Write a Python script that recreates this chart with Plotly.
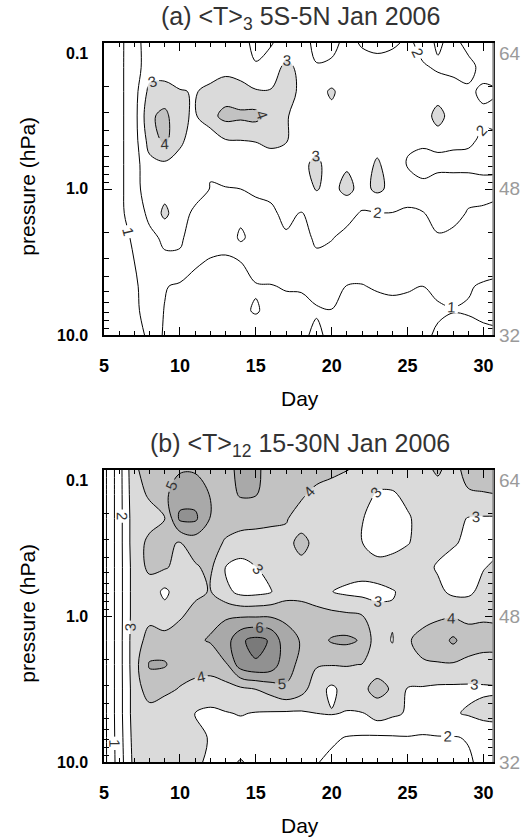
import numpy as np
import plotly.graph_objects as go

# ---------------------------------------------------------------- data
DAYS = list(range(5, 32))
PRESSURE = [10.0, 6.81, 4.64, 3.16, 2.15, 1.47, 1.0, 0.681, 0.464, 0.316, 0.215, 0.147, 0.1]

# (a) <T>_3, 5S-5N: one column per day, values listed from 10 hPa up to 0.1 hPa
T3_EQ_BY_DAY = [
    [0.30, 0.30, 0.35, 0.40, 0.40, 0.45, 0.50, 0.50, 0.50, 0.50, 0.50, 0.50, 0.50],  # 5
    [0.35, 0.40, 0.45, 0.55, 0.65, 0.75, 0.75, 0.75, 0.75, 0.75, 0.75, 0.75, 0.70],  # 6
    [0.50, 0.80, 0.90, 1.00, 1.15, 1.50, 1.60, 1.60, 1.60, 1.60, 1.60, 1.60, 1.70],  # 7
    [1.25, 1.40, 1.30, 1.60, 1.80, 2.20, 2.60, 2.70, 3.40, 3.80, 3.30, 2.50, 2.40],  # 8
    [0.95, 0.97, 1.05, 1.85, 2.15, 3.25, 2.60, 2.80, 4.25, 4.30, 3.30, 2.60, 2.40],  # 9
    [0.70, 0.80, 0.86, 1.75, 2.20, 2.30, 2.40, 2.60, 3.20, 3.15, 3.05, 2.50, 2.30],  # 10
    [0.60, 0.80, 0.76, 1.10, 1.40, 1.85, 2.30, 2.50, 2.50, 2.90, 2.95, 2.40, 2.40],  # 11
    [0.60, 0.50, 0.58, 0.93, 1.36, 1.82, 1.98, 2.05, 2.30, 3.70, 3.20, 2.60, 2.40],  # 12
    [0.65, 0.55, 0.55, 0.90, 1.25, 1.60, 1.97, 2.30, 2.95, 4.30, 3.50, 2.70, 2.30],  # 13
    [0.70, 0.90, 0.65, 1.00, 2.20, 1.70, 2.00, 2.30, 3.00, 4.20, 3.40, 2.50, 2.20],  # 14
    [0.70, 1.05, 0.95, 1.30, 1.55, 1.80, 2.10, 2.40, 3.05, 4.30, 3.10, 2.05, 1.85],  # 15
    [0.65, 0.85, 0.97, 1.35, 1.60, 1.85, 2.20, 2.60, 3.20, 3.70, 3.05, 2.60, 1.90],  # 16
    [0.70, 0.80, 1.05, 1.50, 1.90, 2.20, 2.40, 2.70, 3.05, 3.10, 3.20, 3.20, 2.60],  # 17
    [0.85, 0.80, 1.07, 1.40, 1.70, 1.95, 2.60, 2.80, 2.50, 2.50, 2.90, 2.80, 2.30],  # 18
    [1.15, 0.93, 1.25, 1.80, 2.15, 2.30, 3.05, 3.20, 2.70, 2.50, 2.60, 2.05, 1.80],  # 19
    [0.80, 0.98, 1.30, 1.65, 2.05, 2.40, 2.75, 2.60, 2.60, 2.70, 3.15, 2.10, 1.85],  # 20
    [0.70, 0.70, 0.98, 1.35, 1.75, 2.30, 3.25, 2.90, 2.50, 2.40, 2.50, 2.30, 2.15],  # 21
    [0.70, 0.70, 0.97, 1.30, 1.60, 1.90, 2.70, 2.50, 2.40, 2.35, 2.40, 2.20, 1.95],  # 22
    [0.60, 0.75, 1.07, 1.40, 1.70, 1.95, 3.20, 3.15, 2.60, 2.40, 2.30, 2.20, 1.85],  # 23
    [0.70, 0.80, 1.12, 1.45, 1.75, 1.97, 2.75, 2.50, 2.30, 2.35, 2.20, 2.30, 1.90],  # 24
    [0.75, 0.85, 1.05, 1.40, 1.70, 1.90, 2.30, 1.95, 2.10, 2.20, 2.20, 2.20, 2.10],  # 25
    [0.85, 0.75, 1.00, 1.35, 1.70, 1.98, 2.15, 1.80, 2.10, 2.15, 2.10, 2.05, 1.85],  # 26
    [1.10, 0.90, 1.16, 1.50, 1.95, 2.20, 2.30, 1.85, 2.15, 3.60, 2.20, 1.95, 2.05],  # 27
    [1.20, 0.98, 1.12, 1.45, 1.85, 2.20, 2.30, 1.85, 2.10, 2.25, 2.15, 1.90, 1.90],  # 28
    [1.20, 0.95, 1.05, 1.40, 1.70, 1.95, 2.20, 1.90, 2.05, 2.10, 2.05, 1.90, 2.10],  # 29
    [1.15, 0.85, 0.93, 1.30, 1.60, 1.90, 2.20, 1.85, 1.95, 2.05, 1.95, 2.10, 2.30],  # 30
    [1.10, 0.80, 0.86, 1.25, 1.55, 1.80, 2.15, 1.90, 1.95, 2.10, 2.00, 2.20, 2.30],  # 31
]

# (b) <T>_12, 15-30N: one row per level, from 0.1 hPa (top) down to 10 hPa, days 5..31
T12_SUB_ROWS = [
    [-0.3, 1.6, 3.8, 4.5, 4.7, 4.9, 4.9, 4.6, 4.6, 5.3, 5.2, 4.6, 4.5, 4.4, 4.3, 4.2, 4.05, 3.6, 3.5, 3.5, 3.6, 3.8, 4.1, 3.7, 4.3, 4.4, 4.3],   # 0.1
    [-0.3, 1.6, 3.7, 4.1, 4.8, 5.6, 5.6, 4.95, 4.6, 5.1, 5.05, 4.6, 4.4, 4.1, 3.8, 3.6, 3.5, 3.4, 2.9, 2.9, 3.2, 3.5, 3.7, 3.6, 3.9, 3.95, 4.0],  # 0.147
    [-0.3, 1.6, 3.6, 3.7, 3.98, 6.2, 6.2, 4.95, 4.4, 4.3, 4.3, 4.2, 4.05, 3.7, 3.5, 3.4, 3.3, 3.05, 2.6, 2.7, 2.9, 3.3, 3.4, 3.3, 2.95, 2.9, 2.9],  # 0.215
    [-0.3, 1.6, 3.6, 4.2, 4.15, 3.95, 4.4, 4.4, 3.9, 3.7, 3.6, 3.6, 3.8, 4.2, 3.8, 3.5, 3.3, 3.02, 2.5, 2.6, 2.95, 3.3, 3.3, 3.1, 2.8, 2.7, 2.8],  # 0.316
    [-0.3, 1.6, 3.5, 4.2, 4.1, 3.7, 3.9, 4.2, 2.97, 2.6, 2.98, 3.4, 3.6, 3.8, 3.6, 3.5, 3.5, 3.4, 3.4, 3.5, 3.5, 3.3, 2.9, 2.6, 2.7, 2.95, 3.2],  # 0.464
    [-0.3, 1.6, 3.5, 3.5, 2.8, 3.5, 3.8, 4.05, 3.3, 2.7, 2.7, 2.95, 3.5, 3.6, 3.4, 3.02, 2.8, 2.7, 2.8, 2.95, 3.2, 3.3, 3.2, 2.8, 2.8, 3.3, 3.5],  # 0.681
    [-0.3, 1.6, 3.5, 3.8, 3.4, 3.9, 4.3, 4.85, 4.9, 4.9, 4.9, 4.9, 4.85, 4.6, 4.4, 4.3, 4.2, 4.05, 3.3, 3.1, 3.5, 3.7, 3.9, 3.9, 3.8, 3.9, 3.85],  # 1.0
    [-0.3, 1.6, 3.6, 4.3, 4.4, 4.5, 4.9, 5.05, 5.5, 6.85, 7.3, 6.9, 5.3, 4.95, 4.6, 5.1, 5.2, 4.9, 3.4, 2.95, 3.9, 4.3, 4.4, 5.2, 4.4, 4.3, 4.3],  # 1.47
    [-0.3, 1.6, 3.6, 5.1, 5.1, 4.4, 4.5, 4.6, 4.9, 6.5, 6.9, 6.6, 5.3, 4.8, 4.1, 4.05, 4.05, 3.98, 3.6, 3.4, 3.6, 3.9, 3.95, 3.9, 3.8, 3.7, 3.7],  # 2.15
    [-0.3, 1.6, 3.5, 4.5, 4.2, 3.95, 3.6, 3.3, 3.6, 3.8, 4.02, 4.4, 4.9, 4.4, 3.4, 2.8, 3.4, 3.8, 4.3, 3.9, 2.95, 2.9, 2.8, 2.8, 2.8, 2.85, 2.9],  # 3.16
    [-0.3, 1.6, 3.5, 3.6, 3.5, 3.4, 2.97, 2.9, 2.95, 3.05, 2.95, 2.9, 2.85, 2.85, 3.0, 3.05, 2.95, 2.95, 3.5, 3.2, 2.9, 2.7, 2.7, 2.9, 3.1, 3.3, 3.3],  # 4.64
    [-0.3, 1.55, 3.4, 3.5, 3.4, 3.3, 3.2, 2.95, 2.7, 2.6, 2.7, 2.6, 2.5, 2.4, 2.3, 2.15, 1.95, 1.9, 1.85, 1.9, 1.95, 1.9, 1.95, 1.95, 2.05, 2.3, 2.5],  # 6.81
    [-0.3, 1.5, 3.3, 3.4, 3.3, 3.2, 3.1, 2.9, 2.8, 3.05, 2.8, 2.5, 2.3, 2.2, 2.05, 1.8, 1.7, 1.6, 1.6, 1.6, 1.7, 1.7, 1.8, 1.8, 1.9, 2.2, 2.4],  # 10
]

DAY_TICKS = [5, 10, 15, 20, 25, 30]
P_TICKS = [0.1, 1.0, 10.0]
P_TICK_TEXT = ["0.1", "1.0", "10.0"]
ALT_TICK_TEXT = ["64", "48", "32"]
TITLES = ["(a) &lt;T&gt;<sub>3</sub> 5S-5N Jan 2006", "(b) &lt;T&gt;<sub>12</sub> 15-30N Jan 2006"]
LEVEL_START = [1, 0]     # lowest contour level drawn in each panel
LEVEL_END = 7

# ---------------------------------------------------------------- layout helpers
W, H = 524, 839
PLOT_L, PLOT_R = 100, 493
PANELS = [(43, 335), (470, 762)]          # top / bottom pixel rows of each plot box
FONT = "Liberation Sans"
BAND_GREY = {3: "#dadada", 4: "#c2c2c2", 5: "#a9a9a9", 6: "#919191", 7: "#7a7a7a"}


def fx(px):
    return px / W


def fy(py):
    return 1 - py / H


def p_to_px(p, top, bot):
    return top + (bot - top) * (np.log10(p) + 1) / 2


def band_scale(start, end):
    """Stepped grey scale: white below 3, darker grey for each unit above."""
    n = end - start + 1
    out = []
    for j in range(n + 1):
        lower = start + j - 1          # band [lower, lower + 1]
        out.append([j / n, BAND_GREY.get(min(lower, 7), "#ffffff") if lower >= 3 else "#ffffff"])
    return out


za = np.array(T3_EQ_BY_DAY).T               # rows: 10 hPa .. 0.1 hPa
zb = np.array(T12_SUB_ROWS)[::-1]           # rows: 10 hPa .. 0.1 hPa

fig = go.Figure()
for i, z in enumerate([za, zb]):
    fig.add_trace(go.Contour(
        x=DAYS, y=PRESSURE, z=z,
        xaxis="x" if i == 0 else "x2", yaxis="y" if i == 0 else "y2",
        autocontour=False,
        contours=dict(start=LEVEL_START[i], end=LEVEL_END, size=1, coloring="fill", showlabels=True,
                      labelfont=dict(family=FONT, size=15, color="#333333")),
        colorscale=band_scale(LEVEL_START[i], LEVEL_END), showscale=False,
        line=dict(color="black", width=1),
        hoverinfo="skip",
    ))

layout = dict(
    width=W, height=H, autosize=False,
    margin=dict(l=0, r=0, t=0, b=0),
    paper_bgcolor="white", plot_bgcolor="white",
    showlegend=False,
    font=dict(family=FONT, color="black"),
)

annotations = []
shapes = []
for i, (top, bot) in enumerate(PANELS):
    sfx = "" if i == 0 else "2"
    layout["xaxis" + sfx] = dict(
        domain=[fx(PLOT_L), fx(PLOT_R)], range=[5, 30.65], anchor="y" + sfx,
        tickmode="array", tickvals=DAY_TICKS, ticks="inside", ticklen=8, tickwidth=1.2,
        tickcolor="black", showline=True, linecolor="black", linewidth=1.6, mirror="ticks",
        showgrid=False, zeroline=False,
        tickfont=dict(family=FONT, size=18, color="black", weight="bold"),
        ticklabelstandoff=14,
        minor=dict(ticks="inside", ticklen=4, tickwidth=1, tickcolor="black",
                   tickmode="array", tickvals=[d for d in range(6, 31) if d % 5], showgrid=False),
    )
    layout["yaxis" + sfx] = dict(
        domain=[fy(bot), fy(top)], type="log", range=[1, -1], anchor="x" + sfx,
        tickmode="array", tickvals=P_TICKS, showticklabels=False,
        ticks="inside", ticklen=8, tickwidth=1.2, tickcolor="black",
        showline=True, linecolor="black", linewidth=1.6, mirror="ticks",
        showgrid=False, zeroline=False,
        minor=dict(ticks="inside", ticklen=5, tickwidth=1, tickcolor="black", tickmode="array",
                   tickvals=[m * 0.1 for m in range(2, 10)] + [float(m) for m in range(2, 10)],
                   showgrid=False),
    )
    # grey right-hand (altitude) axis line
    shapes.append(dict(type="line", xref="paper", yref="paper", layer="above",
                       x0=fx(PLOT_R), x1=fx(PLOT_R), y0=fy(bot), y1=fy(top),
                       line=dict(color="#8a8a8a", width=2)))
    # pressure and altitude tick labels
    for p, lab, alt in zip(P_TICKS, P_TICK_TEXT, ALT_TICK_TEXT):
        ypx = p_to_px(p, top, bot)
        if p == 0.1:
            ypx += 10
        annotations.append(dict(text=lab, x=fx(86), y=fy(ypx), xref="paper", yref="paper",
                                xanchor="right", yanchor="middle", showarrow=False,
                                font=dict(family=FONT, size=16, color="black", weight="bold")))
        annotations.append(dict(text=alt, x=fx(497), y=fy(ypx), xref="paper", yref="paper",
                                xanchor="left", yanchor="middle", showarrow=False,
                                font=dict(family=FONT, size=19, color="#9a9a9a")))
    # panel title and axis titles
    annotations.append(dict(text=TITLES[i], x=fx(298), y=fy(top - 25), xref="paper", yref="paper",
                            xanchor="center", yanchor="middle", showarrow=False,
                            font=dict(family=FONT, size=25, color="#333333")))
    annotations.append(dict(text="pressure (hPa)", x=fx(22), y=fy((top + bot) / 2 - 3),
                            xref="paper", yref="paper", textangle=-90,
                            xanchor="center", yanchor="middle", showarrow=False,
                            font=dict(family=FONT, size=21, color="black")))
    annotations.append(dict(text="Day", x=fx(298), y=fy(bot + 63), xref="paper", yref="paper",
                            xanchor="center", yanchor="middle", showarrow=False,
                            font=dict(family=FONT, size=21, color="black")))

layout["annotations"] = annotations
layout["shapes"] = shapes
fig.update_layout(**layout)
fig.write_html("out.html")
